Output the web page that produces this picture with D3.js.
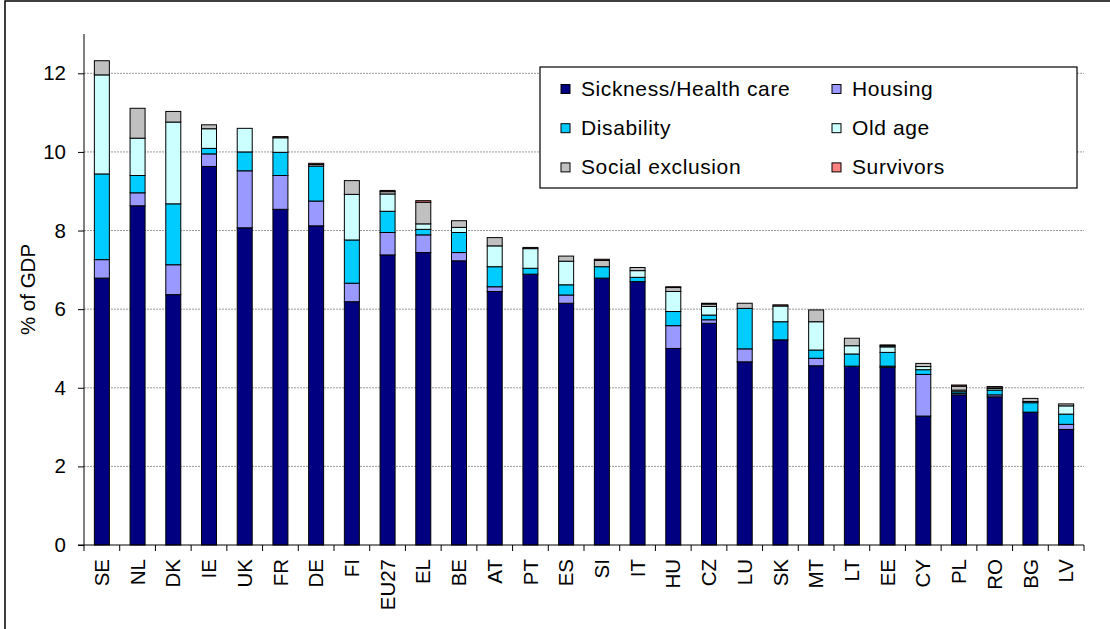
<!DOCTYPE html>
<html>
<head>
<meta charset="utf-8">
<script src="https://cdn.jsdelivr.net/npm/d3@7"></script>
<style>
  body { margin: 0; background: #fff; }
  text { font-family: Arial, "Liberation Sans", sans-serif; fill: #000; }
</style>
</head>
<body>
<div id="chart"></div>
<script>
// countries, sorted as in the source
var countries = ["SE","NL","DK","IE","UK","FR","DE","FI","EU27","EL","BE","AT","PT","ES",
                 "SI","IT","HU","CZ","LU","SK","MT","LT","EE","CY","PL","RO","BG","LV"];

// % of GDP per function
var sickness   = [6.79,8.63,6.37,9.63,8.07,8.54,8.12,6.19,7.38,7.44,7.23,6.45,6.89,6.15,
                  6.79,6.70,5.00,5.64,4.66,5.22,4.56,4.55,4.52,3.28,3.82,3.77,3.38,2.94];
var housing    = [0.47,0.33,0.76,0.32,1.45,0.86,0.63,0.47,0.57,0.45,0.21,0.12,0.00,0.21,
                  0.00,0.00,0.58,0.09,0.33,0.00,0.19,0.00,0.03,1.06,0.04,0.05,0.00,0.13];
var disability = [2.18,0.44,1.55,0.14,0.48,0.59,0.89,1.10,0.54,0.14,0.51,0.51,0.15,0.26,
                  0.29,0.11,0.36,0.12,1.03,0.46,0.21,0.31,0.35,0.12,0.04,0.12,0.24,0.26];
var oldAge     = [2.52,0.95,2.08,0.50,0.60,0.37,0.00,1.16,0.44,0.14,0.13,0.53,0.50,0.60,
                  0.00,0.17,0.51,0.22,0.00,0.40,0.72,0.21,0.14,0.08,0.04,0.04,0.03,0.21];
var social     = [0.36,0.76,0.27,0.10,0.00,0.00,0.04,0.35,0.06,0.55,0.17,0.21,0.00,0.13,
                  0.16,0.08,0.10,0.06,0.13,0.00,0.30,0.19,0.03,0.08,0.10,0.04,0.08,0.05];
var survivors  = [0,0,0,0,0,0.03,0.03,0,0.03,0.04,0,0,0.03,0,
                  0.03,0,0.02,0.02,0,0.03,0,0,0.02,0,0.03,0.01,0,0];

var seriesNames = ["Sickness/Health care","Housing","Disability","Old age","Social exclusion","Survivors"];
var seriesColors = ["#000080","#9999ff","#00ccff","#ccffff","#c0c0c0","#ff8080"];
var yTicks = [0,2,4,6,8,10,12];

var svgWidth = 1110, svgHeight = 629;
var margin = {top: 34, right: 26, bottom: 84, left: 84};
var width = svgWidth - margin.left - margin.right;
var height = svgHeight - margin.top - margin.bottom;

var svg = d3.select("#chart").append("svg")
  .attr("width", svgWidth)
  .attr("height", svgHeight);

// outer frame (runs off the right and bottom edge in the source)
svg.append("rect")
  .attr("x", 5).attr("y", 1)
  .attr("width", svgWidth).attr("height", svgHeight)
  .attr("fill", "none").attr("stroke", "#000").attr("stroke-width", 1.5);

var chartGroup = svg.append("g")
  .attr("transform", `translate(${margin.left}, ${margin.top})`);

// build table for the stack
var table = countries.map(function (c, i) {
  return {
    country: c,
    "Sickness/Health care": sickness[i],
    "Housing": housing[i],
    "Disability": disability[i],
    "Old age": oldAge[i],
    "Social exclusion": social[i],
    "Survivors": survivors[i]
  };
});

var xBandScale = d3.scaleBand()
  .domain(countries)
  .range([0, width])
  .paddingInner(0.58)
  .paddingOuter(0.29);

var yLinearScale = d3.scaleLinear()
  .domain([0, 13])
  .range([height, 0]);

var color = d3.scaleOrdinal().domain(seriesNames).range(seriesColors);

// gridlines
chartGroup.append("g")
  .selectAll("line")
  .data(yTicks.filter(d => d > 0))
  .enter()
  .append("line")
  .attr("x1", 0).attr("x2", width)
  .attr("y1", d => yLinearScale(d)).attr("y2", d => yLinearScale(d))
  .attr("stroke", "#9a9a9a")
  .attr("stroke-dasharray", "2,1");

// stacked bars
var stacked = d3.stack().keys(seriesNames)(table);

chartGroup.append("g")
  .selectAll("g")
  .data(stacked)
  .enter()
  .append("g")
  .attr("fill", d => color(d.key))
  .selectAll("rect")
  .data(d => d.filter(p => p[1] - p[0] > 0))
  .enter()
  .append("rect")
  .attr("x", d => xBandScale(d.data.country))
  .attr("width", xBandScale.bandwidth())
  .attr("y", d => yLinearScale(d[1]))
  .attr("height", d => yLinearScale(d[0]) - yLinearScale(d[1]))
  .attr("stroke", "#000")
  .attr("stroke-width", 1);

// y axis
var leftAxis = d3.axisLeft(yLinearScale)
  .tickValues(yTicks)
  .tickSize(6)
  .tickPadding(12);

var yAxisG = chartGroup.append("g").call(leftAxis);
yAxisG.select(".domain").attr("d", `M0,0V${height}`).attr("stroke", "#000");
yAxisG.selectAll("text")
  .style("font-size", "20.5px")
  .attr("font-family", null);

// x axis: labels under bars, ticks between categories
var bottomAxis = d3.axisBottom(xBandScale).tickSize(0).tickPadding(0);
var xAxisG = chartGroup.append("g")
  .attr("transform", `translate(0, ${height})`)
  .call(bottomAxis);
xAxisG.select(".domain").attr("d", `M-6,0H${width}`).attr("stroke", "#000");
xAxisG.selectAll("text")
  .style("font-size", "20.5px")
  .attr("font-family", null)
  .attr("text-anchor", "end")
  .attr("transform", "rotate(-90)")
  .attr("x", -14)
  .attr("y", 0)
  .attr("dy", "0.35em");

var step = xBandScale.step();
xAxisG.append("g")
  .selectAll("line")
  .data(countries.concat(["_end"]))
  .enter()
  .append("line")
  .attr("x1", (d, i) => i * step).attr("x2", (d, i) => i * step)
  .attr("y1", 0).attr("y2", 6)
  .attr("stroke", "#000");

// y axis title
chartGroup.append("text")
  .attr("transform", "rotate(-90)")
  .attr("x", 0 - height / 2)
  .attr("y", 0 - margin.left + 35)
  .attr("text-anchor", "middle")
  .style("font-size", "20.5px")
  .text("% of GDP");

// legend
var legend = svg.append("g").attr("transform", "translate(540, 67)");
legend.append("rect")
  .attr("width", 537).attr("height", 121)
  .attr("fill", "#fff").attr("stroke", "#000").attr("stroke-width", 1.2);

var items = legend.selectAll("g.item")
  .data(seriesNames)
  .enter()
  .append("g")
  .attr("class", "item")
  .attr("transform", (d, i) => `translate(${i % 2 === 0 ? 21 : 292}, ${22 + Math.floor(i / 2) * 39.2})`);

items.append("rect")
  .attr("x", 0).attr("y", -4.5)
  .attr("width", 9).attr("height", 9)
  .attr("fill", d => color(d))
  .attr("stroke", "#000");

items.append("text")
  .attr("x", 20).attr("y", 7)
  .style("font-size", "21px")
  .style("letter-spacing", "0.6px")
  .text(d => d);
</script>
</body>
</html>
